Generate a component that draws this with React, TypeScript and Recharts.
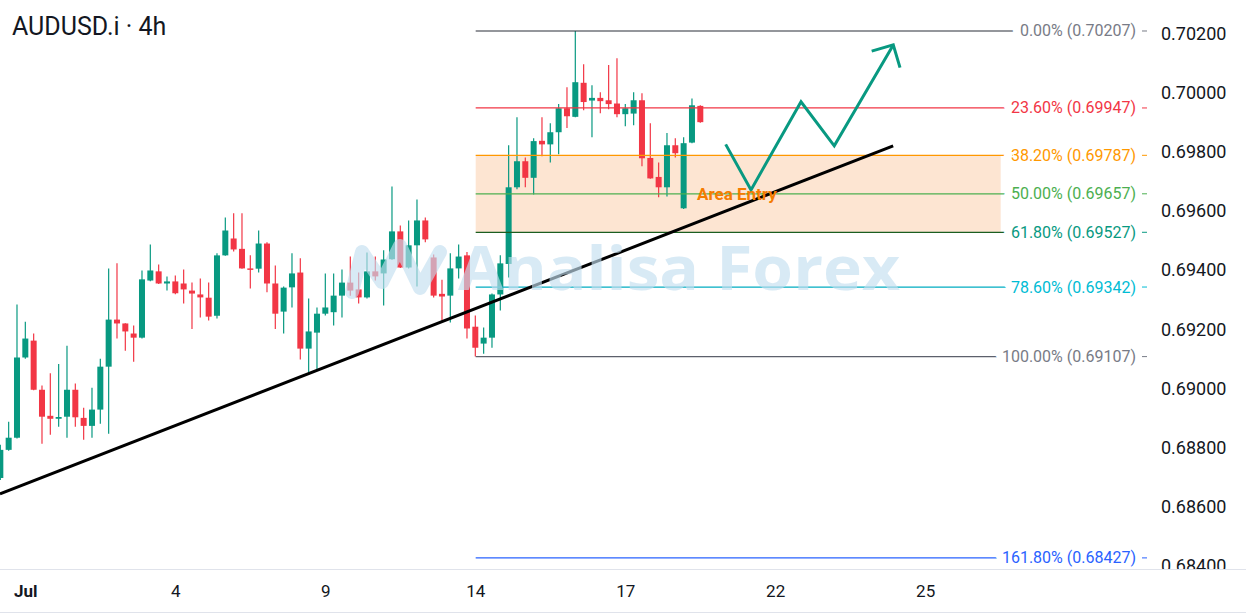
import { ComposedChart, Bar, Scatter, XAxis, YAxis, ReferenceLine, ReferenceArea } from "recharts";

// 4h candles, Jun 30 12:00 -> Jul 18
const opens = [
  0.68697, 0.68792, 0.68833, 0.69104, 0.69161, 0.68995, 0.68907, 0.68897, 0.68904, 0.68995,
  0.68900, 0.68873, 0.68928, 0.69073, 0.69232, 0.69219, 0.69185, 0.69171, 0.69364, 0.69395,
  0.69354, 0.69361, 0.69354, 0.69330, 0.69317, 0.69306, 0.69245, 0.69449, 0.69506, 0.69471,
  0.69405, 0.69404, 0.69489, 0.69354, 0.69259, 0.69341, 0.69391, 0.69134, 0.69188, 0.69252,
  0.69257, 0.69313, 0.69357, 0.69334, 0.69307, 0.69395, 0.69388, 0.69436, 0.69530, 0.69408,
  0.69483, 0.69567, 0.69442, 0.69319, 0.69313, 0.69405, 0.69449, 0.69208, 0.69151, 0.69171,
  0.69317, 0.69420, 0.69679, 0.69767, 0.69711, 0.69836, 0.69824, 0.69865, 0.69946, 0.69917,
  0.70032, 0.69972, 0.69981, 0.69973, 0.69962, 0.69926, 0.69928, 0.69973, 0.69778, 0.69714,
  0.69679, 0.69821, 0.69608, 0.69830, 0.69954,
];
const highs = [
  0.68809, 0.68887, 0.69283, 0.69225, 0.69185, 0.69009, 0.69051, 0.69082, 0.69144, 0.69016,
  0.68934, 0.69002, 0.69100, 0.69405, 0.69422, 0.69220, 0.69212, 0.69398, 0.69486, 0.69418,
  0.69378, 0.69381, 0.69401, 0.69357, 0.69371, 0.69357, 0.69456, 0.69577, 0.69591, 0.69591,
  0.69449, 0.69533, 0.69493, 0.69415, 0.69344, 0.69456, 0.69439, 0.69303, 0.69273, 0.69388,
  0.69388, 0.69401, 0.69445, 0.69391, 0.69459, 0.69445, 0.69466, 0.69682, 0.69550, 0.69567,
  0.69638, 0.69577, 0.69452, 0.69367, 0.69456, 0.69486, 0.69460, 0.69246, 0.69205, 0.69320,
  0.69449, 0.69821, 0.69916, 0.69780, 0.69845, 0.69916, 0.69895, 0.69960, 0.70017, 0.70207,
  0.70095, 0.70024, 0.70000, 0.70092, 0.70115, 0.69960, 0.70000, 0.69997, 0.69895, 0.69763,
  0.69862, 0.69845, 0.69848, 0.69979, 0.69956,
];
const lows = [
  0.68690, 0.68789, 0.68830, 0.69100, 0.68993, 0.68813, 0.68843, 0.68870, 0.68833, 0.68870,
  0.68826, 0.68833, 0.68880, 0.68846, 0.69168, 0.69127, 0.69090, 0.69168, 0.69362, 0.69352,
  0.69330, 0.69318, 0.69286, 0.69200, 0.69239, 0.69229, 0.69236, 0.69448, 0.69462, 0.69404,
  0.69337, 0.69391, 0.69324, 0.69200, 0.69185, 0.69273, 0.69097, 0.69053, 0.69060, 0.69246,
  0.69212, 0.69239, 0.69313, 0.69286, 0.69303, 0.69364, 0.69280, 0.69434, 0.69406, 0.69405,
  0.69344, 0.69493, 0.69307, 0.69229, 0.69222, 0.69371, 0.69168, 0.69107, 0.69117, 0.69137,
  0.69263, 0.69374, 0.69672, 0.69679, 0.69655, 0.69784, 0.69763, 0.69791, 0.69879, 0.69916,
  0.69939, 0.69848, 0.69929, 0.69943, 0.69916, 0.69885, 0.69889, 0.69750, 0.69708, 0.69645,
  0.69648, 0.69780, 0.69606, 0.69828, 0.69897,
];
const closes = [
  0.68792, 0.68833, 0.69104, 0.69168, 0.68995, 0.68904, 0.68897, 0.68903, 0.68995, 0.68902,
  0.68873, 0.68928, 0.69073, 0.69232, 0.69219, 0.69192, 0.69171, 0.69368, 0.69398, 0.69354,
  0.69361, 0.69321, 0.69334, 0.69320, 0.69307, 0.69242, 0.69449, 0.69533, 0.69469, 0.69405,
  0.69402, 0.69489, 0.69354, 0.69252, 0.69340, 0.69388, 0.69134, 0.69192, 0.69252, 0.69273,
  0.69313, 0.69357, 0.69330, 0.69307, 0.69395, 0.69378, 0.69435, 0.69530, 0.69408, 0.69483,
  0.69567, 0.69503, 0.69313, 0.69310, 0.69405, 0.69445, 0.69202, 0.69137, 0.69171, 0.69317,
  0.69422, 0.69679, 0.69767, 0.69711, 0.69835, 0.69824, 0.69865, 0.69946, 0.69919, 0.70034,
  0.69967, 0.69981, 0.69970, 0.69960, 0.69926, 0.69946, 0.69973, 0.69777, 0.69709, 0.69679,
  0.69821, 0.69794, 0.69828, 0.69956, 0.69899,
];

const dayTicks = [3, 21, 39, 57, 75, 93, 111];
const dayLabels = ["Jul", "4", "9", "14", "17", "22", "25"];
const priceTicks = [0.684, 0.686, 0.688, 0.69, 0.692, 0.694, 0.696, 0.698, 0.7, 0.702];

const fibPct = ["0.00%", "23.60%", "38.20%", "50.00%", "61.80%", "78.60%", "100.00%", "161.80%"];
const fibPrice = [0.70207, 0.69947, 0.69787, 0.69657, 0.69527, 0.69342, 0.69107, 0.68427];
const fibLineColor = ["#2a2e39", "#f23645", "#ff9800", "#4caf50", "#1b5e20", "#00acc1", "#5d606b", "#2962ff"];
const fibTextColor = ["#787b86", "#f23645", "#ff9800", "#4caf50", "#089981", "#00bcd4", "#787b86", "#2962ff"];
const fibFrom = 57;
const fibTo = 122;
const zoneTo = 120;

const trendX = [-0.084, 107.1];
const trendY = [0.68643, 0.69819];

const pathX = [87.0, 90.04, 96.04, 100.03, 107.11];
const pathY = [0.69824, 0.6967, 0.69968, 0.69819, 0.7016];
const headX = [104.52, 107.11, 107.92];
const headY = [0.70139, 0.7016, 0.70083];

const candles = opens.map((o, k) => ({ i: k, o, h: highs[k], l: lows[k], c: closes[k] }));
const pathData = pathX.map((x, k) => ({ i: x, v: pathY[k] }));
const headData = headX.map((x, k) => ({ i: x, v: headY[k] }));

const UP = "#089981";
const DOWN = "#f23645";
const FONT = "Roboto, 'Noto Sans', sans-serif";

const Candle = (props: any) => {
  const { x, y, width, height, payload } = props;
  const { o, h, l, c } = payload;
  const color = c >= o ? UP : DOWN;
  const k = height / (h - l || 1e-9);
  const top = y + (h - Math.max(o, c)) * k;
  const bot = y + (h - Math.min(o, c)) * k;
  const cx = x + width / 2;
  return (
    <g>
      <line x1={cx} x2={cx} y1={y} y2={y + height} stroke={color} strokeWidth={1.2} />
      <rect x={x} y={top} width={width} height={Math.max(bot - top, 1.5)} fill={color} />
    </g>
  );
};

const PriceTick = ({ y, payload }: any) => (
  <svg x={1150} y={0} width={96} height={569} overflow="hidden">
    <text x={11} y={y} dy={6.5} fontSize={18} fill="#131722" fontFamily={FONT}>
      {payload.value.toFixed(5)}
    </text>
  </svg>
);

const DayTick = ({ x, payload }: any) => {
  const idx = dayTicks.indexOf(payload.value);
  return (
    <text x={x} y={597} textAnchor="middle" fontSize={17} fill="#131722" fontFamily={FONT} fontWeight={idx === 0 ? 700 : 400}>
      {dayLabels[idx]}
    </text>
  );
};

const fibLabel = (k: number) => (props: any) => {
  const y = props.viewBox?.y ?? 0;
  return (
    <g>
      <text
        x={1136}
        y={y}
        dy={5.5}
        textAnchor="end"
        fontSize={16}
        fontFamily={FONT}
        fill={fibTextColor[k]}
        stroke="#fff"
        strokeWidth={16}
        strokeLinejoin="round"
        paintOrder="stroke"
      >
        {`${fibPct[k]} (${fibPrice[k].toFixed(5)})`}
      </text>
      <line x1={1142} x2={1147} y1={y} y2={y} stroke={fibTextColor[k]} strokeWidth={1} />
    </g>
  );
};

export default function App() {
  return (
    <div style={{ position: "absolute", left: 0, top: 0, width: 1246, height: 614, background: "#fff", fontFamily: FONT }}>
      <ComposedChart width={1246} height={614} data={candles} margin={{ top: 0, right: 0, left: 0, bottom: 0 }}>
        <XAxis
          dataKey="i"
          type="number"
          domain={[-0.084, 137.92]}
          ticks={dayTicks}
          tick={<DayTick />}
          axisLine={false}
          tickLine={false}
          height={45}
          allowDataOverflow
        />
        <YAxis
          orientation="right"
          type="number"
          width={96}
          domain={[0.683895, 0.703117]}
          ticks={priceTicks}
          tick={<PriceTick />}
          axisLine={false}
          tickLine={false}
          allowDataOverflow
        />
        <ReferenceArea x1={fibFrom} x2={zoneTo} y1={fibPrice[4]} y2={fibPrice[2]} fill="#fde5d2" fillOpacity={1} stroke="none" />
        <Bar dataKey={(d: any) => [d.l, d.h]} barSize={6} shape={<Candle />} isAnimationActive={false} />
        {fibPrice.map((p, k) => (
          <ReferenceLine
            key={k}
            segment={[{ x: fibFrom, y: p }, { x: fibTo, y: p }]}
            stroke={fibLineColor[k]}
            strokeWidth={1.2}
            label={fibLabel(k)}
          />
        ))}
        <ReferenceLine
          segment={[{ x: trendX[0], y: trendY[0] }, { x: trendX[1], y: trendY[1] }]}
          stroke="#000"
          strokeWidth={3}
        />
        <Scatter data={pathData} dataKey="v" line={{ stroke: UP, strokeWidth: 3 }} shape={() => <g />} isAnimationActive={false} />
        <Scatter data={headData} dataKey="v" line={{ stroke: UP, strokeWidth: 3 }} shape={() => <g />} isAnimationActive={false} />
      </ComposedChart>

      {/* axis separators */}
      <div style={{ position: "absolute", left: 0, top: 569, width: 1246, height: 1, background: "#e0e3eb" }} />
      <div style={{ position: "absolute", left: 0, top: 612, width: 1246, height: 1, background: "#e0e3eb" }} />

      {/* watermark */}
      <svg width={1246} height={614} style={{ position: "absolute", left: 0, top: 0, pointerEvents: "none" }}>
        <polyline
          points="352,292 362,252 382,282 400,246 420,288 440,252"
          fill="none"
          stroke="rgba(195,222,240,0.65)"
          strokeWidth={14}
          strokeLinecap="round"
          strokeLinejoin="round"
        />
        <text
          x={458}
          y={290}
          fontSize={60}
          fontWeight={700}
          fontFamily="'Open Sans', sans-serif"
          fill="rgba(195,222,240,0.65)"
          textLength={442}
          lengthAdjust="spacingAndGlyphs"
        >
          Analisa Forex
        </text>
      </svg>

      <div style={{ position: "absolute", left: 12, top: 14, fontSize: 25, lineHeight: "25px", color: "#131722" }}>AUDUSD.i · 4h</div>
      <div style={{ position: "absolute", left: 697, top: 186, fontSize: 17, lineHeight: "17px", fontWeight: 700, color: "#f57c00" }}>
        Area Entry
      </div>
    </div>
  );
}
